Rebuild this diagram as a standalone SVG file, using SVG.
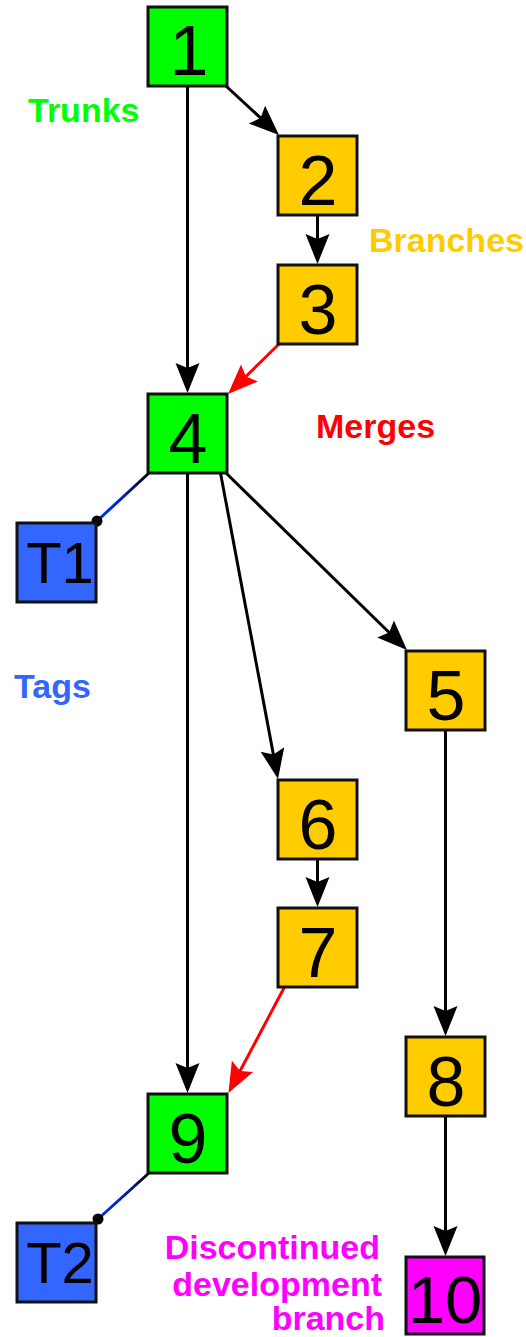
<svg xmlns="http://www.w3.org/2000/svg" width="526" height="1337" viewBox="0 0 526 1337">
<style>
.box{stroke:#111;stroke-width:3}
.trunk{fill:#00ff00}
.branch{fill:#ffcc00}
.tag{fill:#3366ff}
.dead{fill:#ff00ff}
.num{font-family:"Liberation Sans",Arial,sans-serif;font-size:70px;fill:#000;text-anchor:middle}
.tnum{font-size:58px}
.lbl{font-family:"Liberation Sans",Arial,sans-serif;font-size:34px;font-weight:bold}
.edge{fill:none;stroke:#000;stroke-width:3;marker-end:url(#ah)}
.merge{fill:none;stroke:#ff0000;stroke-width:3;marker-end:url(#ahr)}
.tagline{fill:none;stroke:url(#tg);stroke-width:3}
</style>
<defs>
<marker id="ah" markerUnits="userSpaceOnUse" markerWidth="30" markerHeight="24" refX="10" refY="12" orient="auto" overflow="visible">
<path d="M30,12 L0,0 L5,12 L0,24 Z" fill="#000"/>
</marker>
<marker id="ahr" markerUnits="userSpaceOnUse" markerWidth="30" markerHeight="24" refX="10" refY="12" orient="auto" overflow="visible">
<path d="M30,12 L0,0 L5,12 L0,24 Z" fill="#ff0000"/>
</marker>
<linearGradient id="tg" x1="1" y1="0" x2="0" y2="1">
<stop offset="0" stop-color="#000000"/>
<stop offset="0.5" stop-color="#0022bb"/>
<stop offset="1" stop-color="#0033ee"/>
</linearGradient>
</defs>
<g id="connectors">
<line class="edge" x1="187.5" y1="86" x2="187.5" y2="373"/>
<line class="edge" x1="226" y1="86" x2="264.3" y2="121.4"/>
<line class="edge" x1="317.5" y1="215" x2="317.5" y2="244"/>
<line class="merge" x1="279" y1="344" x2="242.3" y2="380"/>
<line class="edge" x1="187.5" y1="473" x2="187.5" y2="1073"/>
<line class="edge" x1="220.5" y1="473" x2="274.3" y2="759.3"/>
<line class="edge" x1="226" y1="473" x2="392.7" y2="636"/>
<line class="edge" x1="445.5" y1="730" x2="445.5" y2="1016"/>
<line class="edge" x1="317.5" y1="859" x2="317.5" y2="887"/>
<line class="merge" x1="284.5" y1="987" x2="237.8" y2="1075.3"/>
<line class="edge" x1="445.5" y1="1116" x2="445.5" y2="1236"/>
<line class="tagline" x1="149" y1="473" x2="97" y2="521"/>
<circle cx="97" cy="521" r="5.5" fill="#000"/>
<line class="tagline" x1="149" y1="1173" x2="98" y2="1219"/>
<circle cx="98" cy="1219" r="5.5" fill="#000"/>
</g>
<g id="n1"><rect class="box trunk" x="148" y="7" width="79" height="79"/><text class="num" x="189" y="75">1</text></g>
<g id="n2"><rect class="box branch" x="278" y="136" width="79" height="79"/><text class="num" x="318" y="205">2</text></g>
<g id="n3"><rect class="box branch" x="278" y="265" width="79" height="79"/><text class="num" x="318" y="334">3</text></g>
<g id="n4"><rect class="box trunk" x="148" y="394" width="79" height="79"/><text class="num" x="188" y="463">4</text></g>
<g id="nT1"><rect class="box tag" x="17" y="523" width="79" height="79"/><text class="num tnum" x="60" y="583">T1</text></g>
<g id="n5"><rect class="box branch" x="406" y="651" width="79" height="79"/><text class="num" x="446" y="720">5</text></g>
<g id="n6"><rect class="box branch" x="278" y="780" width="79" height="79"/><text class="num" x="318" y="849">6</text></g>
<g id="n7"><rect class="box branch" x="278" y="908" width="79" height="79"/><text class="num" x="318" y="977">7</text></g>
<g id="n8"><rect class="box branch" x="406" y="1037" width="79" height="79"/><text class="num" x="446" y="1106">8</text></g>
<g id="n9"><rect class="box trunk" x="148" y="1094" width="79" height="79"/><text class="num" x="188" y="1163">9</text></g>
<g id="nT2"><rect class="box tag" x="17" y="1223" width="79" height="79"/><text class="num tnum" x="60" y="1283">T2</text></g>
<g id="n10"><rect class="box dead" x="406" y="1257" width="78" height="77"/><text class="num" style="font-size:67px" x="445" y="1323">10</text></g>
<g id="labels">
<text class="lbl" x="28" y="122" fill="#00ff00">Trunks</text>
<text class="lbl" x="369" y="252" fill="#ffcc00">Branches</text>
<text class="lbl" x="316" y="438" fill="#ff0000">Merges</text>
<text class="lbl" x="14" y="698" fill="#3366ff">Tags</text>
<text class="lbl" fill="#ff00ff" text-anchor="end"><tspan x="380" y="1259">Discontinued</tspan><tspan x="382" y="1296">development</tspan><tspan x="385" y="1330">branch</tspan></text>
</g>
</svg>
